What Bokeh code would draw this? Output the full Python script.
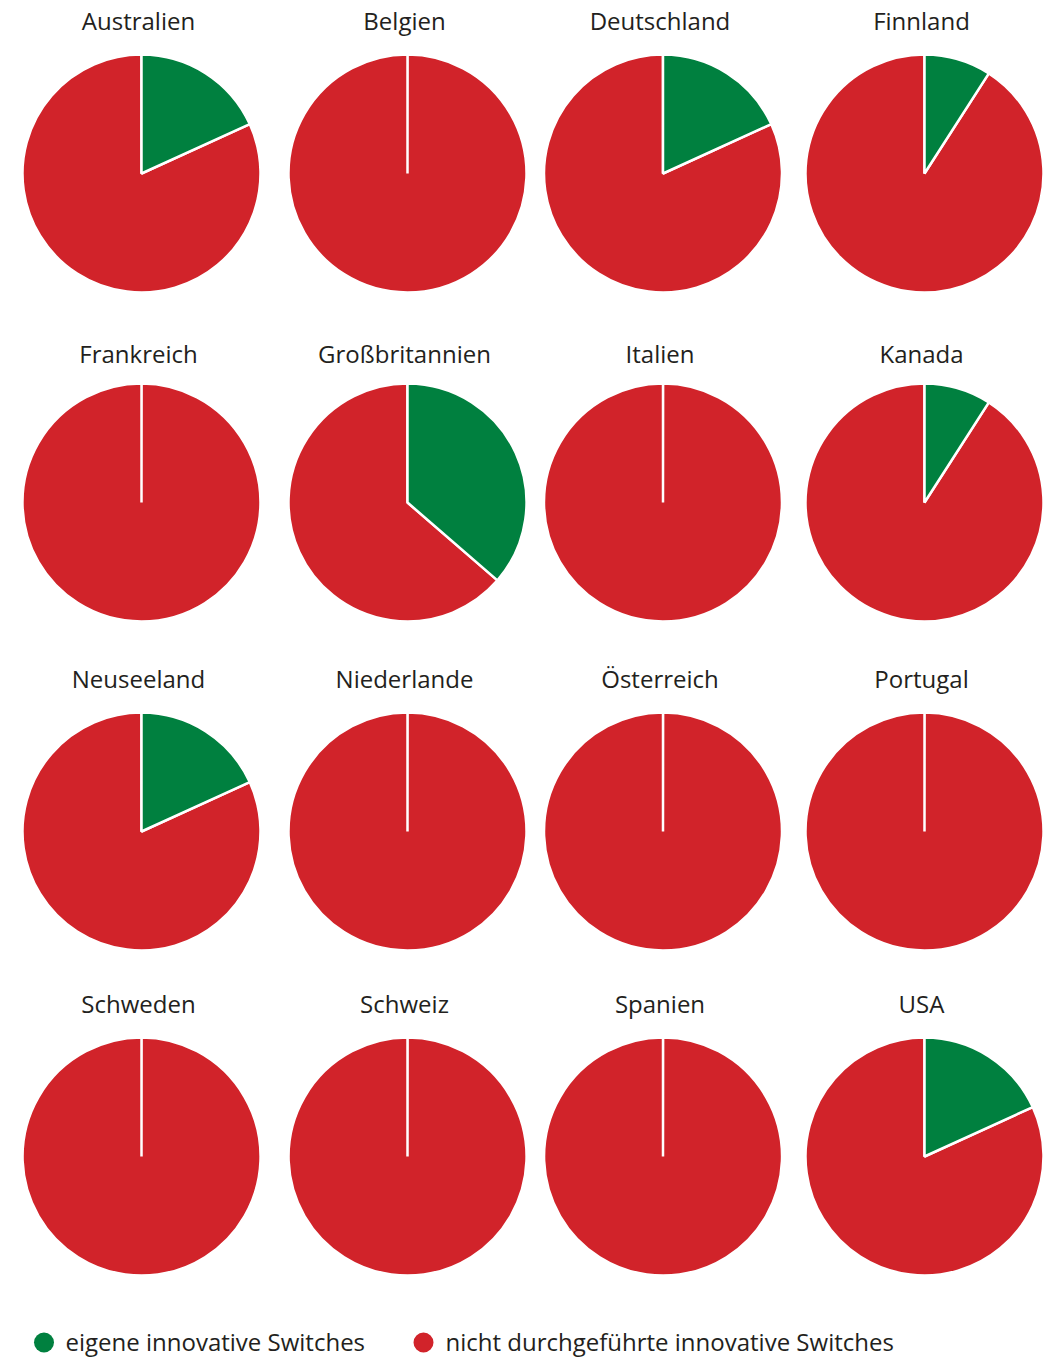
import math
from bokeh.plotting import figure
from bokeh.models import Range1d
from bokeh.core.properties import value
from bokeh.embed import file_html
from bokeh.resources import INLINE

# ---- data ----
countries = ["Australien", "Belgien", "Deutschland", "Finnland",
             "Frankreich", "Großbritannien", "Italien", "Kanada",
             "Neuseeland", "Niederlande", "Österreich", "Portugal",
             "Schweden", "Schweiz", "Spanien", "USA"]
eigene = [2, 0, 2, 1,
          0, 4, 0, 1,
          2, 0, 0, 0,
          0, 0, 0, 2]
nicht_durchgefuehrt = [9, 11, 9, 10,
                       11, 7, 11, 10,
                       9, 11, 11, 11,
                       11, 11, 11, 9]
legend_labels = ["eigene innovative Switches", "nicht durchgeführte innovative Switches"]

GREEN = "#00803F"
RED = "#D1232A"
TEXT = "#231F20"
FONT = "Open Sans"

W, H = 1053, 1357
def sy(y):  # screen y -> data y
    return H - y

col_x = [141, 407, 662.5, 924]
row_y = [173, 502, 831, 1156]
title_base = [20, 353, 678, 1003]
R = 119

p = figure(width=W, height=H, x_range=Range1d(0, W), y_range=Range1d(0, H),
           output_backend="svg", toolbar_location=None, min_border=0)
p.axis.visible = False
p.grid.visible = False
p.outline_line_color = None
p.background_fill_color = "white"
p.border_fill_color = "white"

gx, gy, gs, ge = [], [], [], []
rx, ry, rs, re = [], [], [], []
tx, ty, tt = [], [], []
for i, c in enumerate(countries):
    r_, c_ = divmod(i, 4)
    cx, cy = col_x[c_], sy(row_y[r_])
    total = eigene[i] + nicht_durchgefuehrt[i]
    theta = 2 * math.pi * eigene[i] / total
    top = math.pi / 2
    if eigene[i] > 0:
        gx.append(cx); gy.append(cy); gs.append(top - theta); ge.append(top)
    rx.append(cx); ry.append(cy); rs.append(top)
    re.append(top - theta + 2 * math.pi - (1e-3 if eigene[i] == 0 else 0))
    tx.append(cx - 3); ty.append(sy(title_base[r_])); tt.append(c)

p.wedge(x=rx, y=ry, radius=R, start_angle=rs, end_angle=re, direction="anticlock",
        fill_color=RED, line_color="white", line_width=2.5)
p.wedge(x=gx, y=gy, radius=R, start_angle=gs, end_angle=ge, direction="anticlock",
        fill_color=GREEN, line_color="white", line_width=2.5)

p.text(x=tx, y=ty, text=tt, text_align="center", text_baseline="alphabetic",
       text_font=value(FONT), text_font_size="24px", text_color=TEXT)

# legend
leg_x = [43.5, 423]
leg_colors = [GREEN, RED]
p.scatter(x=leg_x, y=[sy(1342)] * 2, size=20, marker="circle",
          fill_color=leg_colors, line_color=None)
p.text(x=[65, 445], y=[sy(1341)] * 2, text=legend_labels, text_align="left",
       text_baseline="alphabetic", text_font=value(FONT), text_font_size="24px",
       text_color=TEXT)

open("out.html", "w").write(file_html(p, INLINE))
